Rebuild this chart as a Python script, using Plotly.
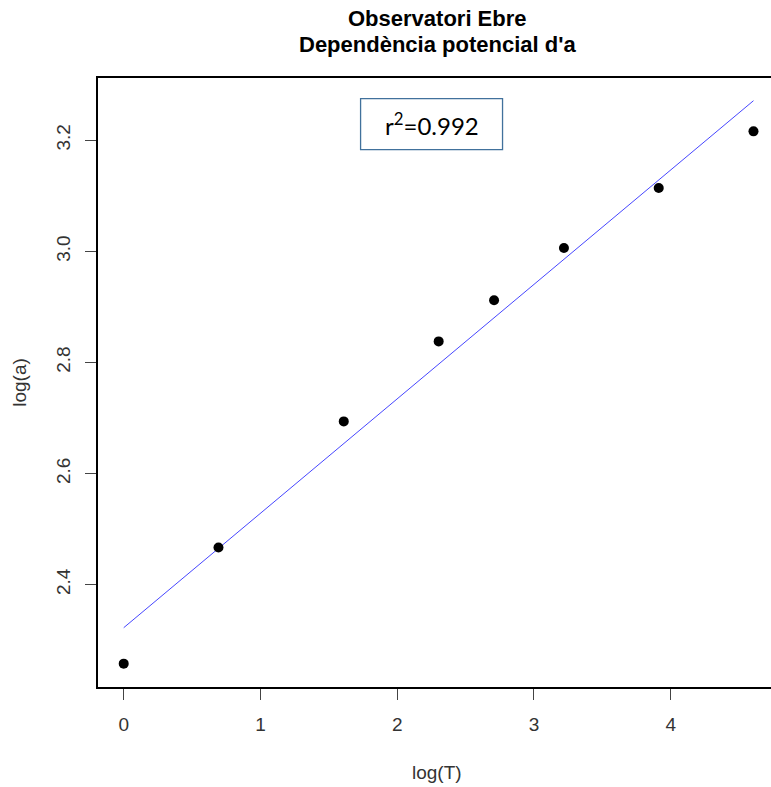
import numpy as np
import plotly.graph_objects as go

# Data
log_T = [0.0, 0.693, 1.609, 2.303, 2.708, 3.219, 3.912, 4.605]
log_a = [2.258, 2.467, 2.694, 2.838, 2.912, 3.006, 3.114, 3.216]
x_ticks = [0, 1, 2, 3, 4]
y_ticks = [2.4, 2.6, 2.8, 3.0, 3.2]
r2_text = "r<sup>2</sup>=0.992"
title_1 = "Observatori Ebre"
title_2 = "Dependència potencial d'a"

slope, intercept = np.polyfit(log_T, log_a, 1)
fit_x = [min(log_T), max(log_T)]
fit_y = [intercept + slope * v for v in fit_x]

fig = go.Figure()
fig.add_trace(go.Scatter(x=fit_x, y=fit_y, mode="lines",
                         line=dict(color="rgb(70,70,255)", width=1), showlegend=False))
fig.add_trace(go.Scatter(x=log_T, y=log_a, mode="markers",
                         marker=dict(color="black", size=10), showlegend=False))

font_main = "Liberation Sans, Arial, sans-serif"
fig.update_layout(
    width=771, height=787,
    margin=dict(l=98, r=0, t=78, b=100),
    paper_bgcolor="white", plot_bgcolor="white",
    font=dict(family=font_main, size=19, color="#333"),
    xaxis=dict(range=[-0.188, 4.733], tickvals=x_ticks, ticktext=[str(v) for v in x_ticks],
               showgrid=False, zeroline=False, showline=True, linecolor="black", linewidth=1.5,
               mirror=True, ticks="outside", ticklen=11, tickcolor="#444", tickwidth=1.3,
               ticklabelstandoff=8),
    yaxis=dict(range=[2.216, 3.312], tickvals=y_ticks, ticktext=[f"{v:.1f}" for v in y_ticks],
               showgrid=False, zeroline=False, showline=True, linecolor="black", linewidth=1.5,
               mirror=False, ticks="outside", ticklen=11, tickcolor="#444", tickwidth=1.3,
               tickangle=-90, ticklabelstandoff=8),
)

annos = [
    dict(text=f"<b>{title_1}</b>", x=0.504, y=1.097, font=dict(size=22, color="black")),
    dict(text=f"<b>{title_2}</b>", x=0.504, y=1.055, font=dict(size=22, color="black")),
    dict(text="log(T)", x=0.504, y=-0.1396),
    dict(text="log(a)", x=-0.117, y=0.5, textangle=-90),
]
for a in annos:
    fig.add_annotation(xref="paper", yref="paper", showarrow=False,
                       xanchor="center", yanchor="middle", **a)

# r^2 box
fig.add_shape(type="rect", xref="x", yref="y", x0=1.732, x1=2.770, y0=3.183, y1=3.275,
              line=dict(color="#41719c", width=1.3), fillcolor="white")
fig.add_annotation(xref="x", yref="y", x=2.251, y=3.229, text=r2_text, showarrow=False,
                   font=dict(family="Lato, Open Sans, sans-serif", size=24, color="black"))

fig.write_html("out.html")
